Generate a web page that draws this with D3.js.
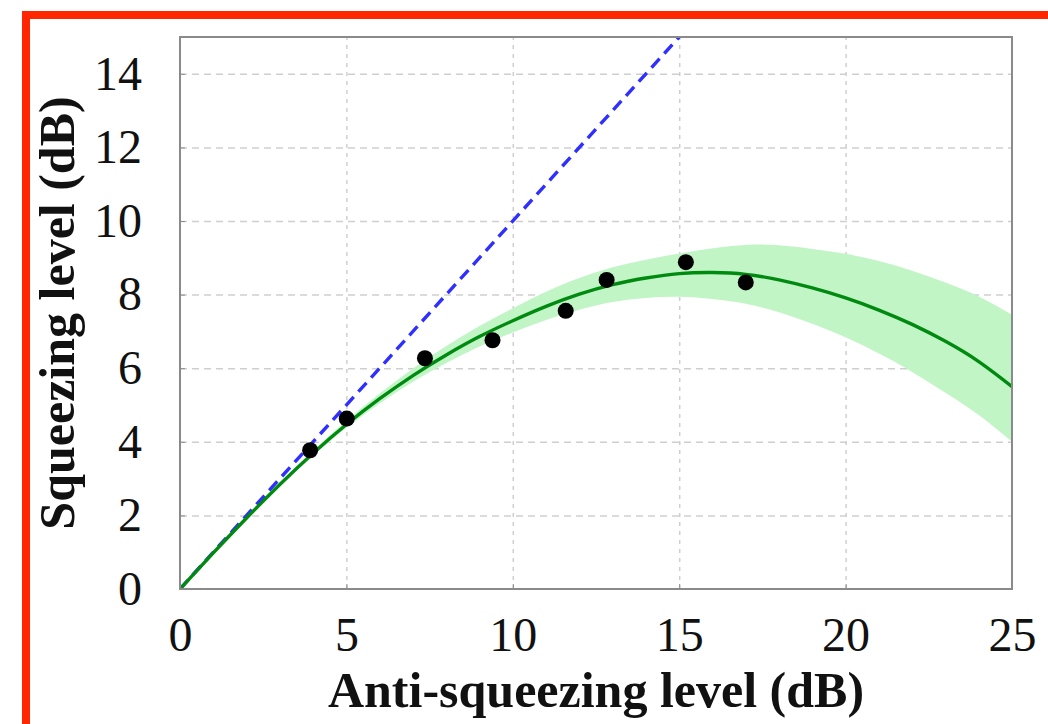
<!DOCTYPE html>
<html>
<head>
<meta charset="utf-8">
<style>
body { margin: 0; background: #fff; }
svg text { font-family: "Liberation Serif", "Times New Roman", serif; fill: #111; }
</style>
</head>
<body>
<svg width="1048" height="724"></svg>
<script src="https://d3js.org/d3.v7.min.js"></script>
<script>
// measured points (anti-squeezing, squeezing) in dB
var measX = [3.91, 5.01, 7.36, 9.39, 11.59, 12.82, 15.20, 17.00]
var measY = [3.77, 4.63, 6.27, 6.76, 7.56, 8.40, 8.88, 8.33]

var fitX     = [0, 1, 2, 3, 4, 5, 6, 7, 8, 9, 10, 11, 12, 13, 14, 15, 16, 17, 18, 19, 20, 21, 22, 23, 24, 25]
var fitY     = [0, 0.98, 1.93, 2.84, 3.69, 4.47, 5.17, 5.80, 6.36, 6.86, 7.29, 7.68, 8.01, 8.27, 8.45, 8.57, 8.60, 8.55, 8.40, 8.18, 7.91, 7.58, 7.19, 6.73, 6.18, 5.50]
var bandHigh = [0, 0.99, 1.95, 2.88, 3.76, 4.57, 5.31, 5.99, 6.60, 7.15, 7.63, 8.08, 8.45, 8.74, 8.95, 9.12, 9.26, 9.35, 9.34, 9.24, 9.11, 8.91, 8.65, 8.33, 7.95, 7.45]
var bandLow  = [0, 0.97, 1.91, 2.80, 3.63, 4.38, 5.04, 5.63, 6.14, 6.59, 6.97, 7.31, 7.59, 7.80, 7.91, 7.94, 7.88, 7.75, 7.52, 7.21, 6.84, 6.40, 5.90, 5.33, 4.73, 4.00]

// ideal (lossless) reference line
var idealX = [0, 15]
var idealY = [0, 15]

var xTicks = [0, 5, 10, 15, 20, 25]
var yTicks = [0, 2, 4, 6, 8, 10, 12, 14]

var svg = d3.select('svg')
var pLeft = 180, pRight = 1012, pTop = 37, pBottom = 589
var x = d3.scaleLinear().domain([0, 25]).range([pLeft, pRight])
var y = d3.scaleLinear().domain([0, 15]).range([pBottom, pTop])

// red frame (only top and left edges fall inside the picture)
svg.append('path')
	.attr('d', 'M26,724 V15 H1048')
	.attr('fill', 'none').attr('stroke', '#ff2600').attr('stroke-width', 8)

svg.append('clipPath').attr('id', 'plot')
	.append('rect').attr('x', pLeft).attr('y', pTop).attr('width', pRight - pLeft).attr('height', pBottom - pTop)

// grid
svg.append('g').attr('transform', 'translate(0,' + pBottom + ')')
	.call(d3.axisBottom(x).tickValues(xTicks.slice(1, -1)).tickSize(-(pBottom - pTop)).tickFormat(''))
	.call(function(g) {
		g.select('.domain').remove()
		g.selectAll('line').attr('stroke', '#cfcfcf').attr('stroke-width', 1.5).attr('stroke-dasharray', '4,5')
	})
svg.append('g').attr('transform', 'translate(' + pLeft + ',0)')
	.call(d3.axisLeft(y).tickValues(yTicks.slice(1)).tickSize(-(pRight - pLeft)).tickFormat(''))
	.call(function(g) {
		g.select('.domain').remove()
		g.selectAll('line').attr('stroke', '#cfcfcf').attr('stroke-width', 1.5).attr('stroke-dasharray', '7,5')
	})

var plot = svg.append('g').attr('clip-path', 'url(#plot)')

var band = d3.area()
	.x(function(d, i) { return x(fitX[i]) })
	.y0(function(d, i) { return y(bandLow[i]) })
	.y1(function(d, i) { return y(bandHigh[i]) })
	.curve(d3.curveNatural)
plot.append('path').datum(fitX).attr('d', band).attr('fill', '#c1f5c6')

plot.append('path').datum(idealX)
	.attr('d', d3.line().x(function(d) { return x(d) }).y(function(d, i) { return y(idealY[i]) }))
	.attr('fill', 'none').attr('stroke', '#2f2fff').attr('stroke-width', 3.4).attr('stroke-dasharray', '12,7')

plot.append('path').datum(fitX)
	.attr('d', d3.line().x(function(d) { return x(d) }).y(function(d, i) { return y(fitY[i]) }).curve(d3.curveNatural))
	.attr('fill', 'none').attr('stroke', '#008a10').attr('stroke-width', 3.4)

plot.selectAll('circle').data(measX).enter().append('circle')
	.attr('cx', function(d) { return x(d) })
	.attr('cy', function(d, i) { return y(measY[i]) })
	.attr('r', 8).attr('fill', '#000')

// frame
svg.append('rect').attr('x', pLeft).attr('y', pTop).attr('width', pRight - pLeft).attr('height', pBottom - pTop)
	.attr('fill', 'none').attr('stroke', '#8a8a8a').attr('stroke-width', 2)

// axes with short inward ticks
var xAxis = svg.append('g').attr('transform', 'translate(0,' + pBottom + ')')
	.call(d3.axisBottom(x).tickValues(xTicks).tickSizeInner(-5).tickSizeOuter(0).tickPadding(28))
xAxis.select('.domain').remove()
xAxis.selectAll('line').attr('stroke', '#8a8a8a')
xAxis.selectAll('text').attr('font-size', 48).attr('font-family', 'Liberation Serif').attr('fill', '#111')

var yAxis = svg.append('g').attr('transform', 'translate(' + pLeft + ',0)')
	.call(d3.axisLeft(y).tickValues(yTicks).tickSizeInner(-5).tickSizeOuter(0).tickPadding(38))
yAxis.select('.domain').remove()
yAxis.selectAll('line').attr('stroke', '#8a8a8a')
yAxis.selectAll('text').attr('font-size', 48).attr('font-family', 'Liberation Serif').attr('fill', '#111')

svg.append('text').attr('x', (pLeft + pRight) / 2).attr('y', 707)
	.attr('text-anchor', 'middle').attr('font-size', 50).attr('font-weight', 'bold')
	.text('Anti-squeezing level (dB)')
svg.append('text').attr('transform', 'translate(74,' + (pTop + pBottom) / 2 + ') rotate(-90)')
	.attr('text-anchor', 'middle').attr('font-size', 50).attr('font-weight', 'bold')
	.text('Squeezing level (dB)')
</script>
</body>
</html>
